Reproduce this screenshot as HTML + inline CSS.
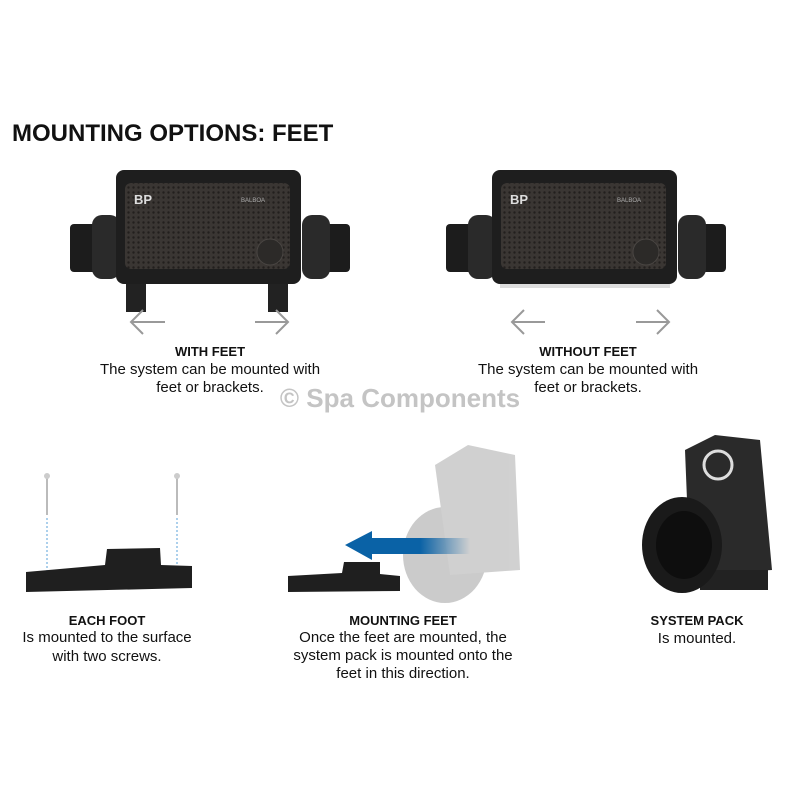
<!DOCTYPE html>
<html><head><meta charset="utf-8"><style>
html,body{margin:0;padding:0;background:#fff;}
svg{display:block;font-family:"Liberation Sans",sans-serif;}
</style></head><body>
<svg width="800" height="800" viewBox="0 0 800 800" xmlns="http://www.w3.org/2000/svg">
<defs>
<pattern id="dots" width="5" height="5" patternUnits="userSpaceOnUse"><rect width="5" height="5" fill="#3a3633"/><circle cx="2.5" cy="2.5" r="1.2" fill="#221f1d"/></pattern>
<linearGradient id="blue" x1="0" x2="1"><stop offset="0" stop-color="#0a62a6"/><stop offset="0.6" stop-color="#0a62a6"/><stop offset="1" stop-color="#0a62a6" stop-opacity="0"/></linearGradient>
<g id="unit">
  <rect x="-46" y="54" width="28" height="48" rx="4" fill="#1c1c1c"/>
  <rect x="-24" y="45" width="28" height="64" rx="10" fill="#2a2a2a"/>
  <rect x="210" y="54" width="24" height="48" rx="4" fill="#1c1c1c"/>
  <rect x="186" y="45" width="28" height="64" rx="10" fill="#2a2a2a"/>
  <rect x="10" y="112" width="20" height="30" fill="#222"/>
  <rect x="152" y="112" width="20" height="30" fill="#222"/>
  <rect x="0" y="0" width="185" height="114" rx="8" fill="#1e1e1e"/>
  <rect x="9" y="13" width="165" height="86" rx="6" fill="url(#dots)"/>
  <circle cx="154" cy="82" r="13" fill="#2c2a28" stroke="#4a4643"/>
  <text x="18" y="34" fill="#ddd" font-size="13" font-weight="bold">BP</text>
  <text x="125" y="32" fill="#aaa" font-size="6">BALBOA</text>
</g>
</defs>

<text x="12" y="141" font-size="24" font-weight="bold" fill="#111">MOUNTING OPTIONS: FEET</text>

<use href="#unit" x="116" y="170"/>
<use href="#unit" x="492" y="170"/>
<rect x="500" y="285" width="180" height="30" fill="#fff"/>
<rect x="500" y="284" width="170" height="4" fill="#ddd"/>

<g stroke="#999" stroke-width="2" fill="none">
<path d="M165 322H131M143 310L131 322L143 334"/>
<path d="M255 322H288M276 310L288 322L276 334"/>
<path d="M545 322H512M524 310L512 322L524 334"/>
<path d="M636 322H669M657 310L669 322L657 334"/>
</g>

<g text-anchor="middle" fill="#111">
<text x="210" y="356" font-size="13" font-weight="bold">WITH FEET</text>
<text x="210" y="374" font-size="15">The system can be mounted with</text>
<text x="210" y="392" font-size="15">feet or brackets.</text>
<text x="588" y="356" font-size="13" font-weight="bold">WITHOUT FEET</text>
<text x="588" y="374" font-size="15">The system can be mounted with</text>
<text x="588" y="392" font-size="15">feet or brackets.</text>
<text x="400" y="407" font-size="26" fill="#c4c4c4" font-weight="bold">© Spa Components</text>
</g>

<g stroke="#bbb" stroke-width="2"><line x1="47" y1="478" x2="47" y2="515"/><line x1="177" y1="478" x2="177" y2="515"/></g>
<circle cx="47" cy="476" r="3" fill="#ccc"/><circle cx="177" cy="476" r="3" fill="#ccc"/>
<g stroke="#5aa0d8" stroke-dasharray="2,2"><line x1="47" y1="518" x2="47" y2="585"/><line x1="177" y1="518" x2="177" y2="585"/></g>
<path d="M26 572L105 565L107 549L160 548L161 565L192 566L192 588L26 592Z" fill="#1f1f1f"/>

<path d="M288 576L342 573L344 562L380 562L380 574L400 576L400 591L288 592Z" fill="#1f1f1f"/>
<g opacity="0.3">
<ellipse cx="445" cy="555" rx="42" ry="48" fill="#555"/>
<path d="M435 465L468 445L515 455L520 570L450 575Z" fill="#666"/>
</g>
<path d="M345 545L372 531V538H470V554H372V560Z" fill="url(#blue)"/>

<path d="M685 450L715 435L760 440L772 570L690 575Z" fill="#2a2a2a"/>
<rect x="700" y="570" width="68" height="20" fill="#222"/>
<ellipse cx="682" cy="545" rx="40" ry="48" fill="#1a1a1a"/>
<ellipse cx="684" cy="545" rx="28" ry="34" fill="#0e0e0e"/>
<circle cx="718" cy="465" r="14" fill="none" stroke="#ddd" stroke-width="3"/>

<g text-anchor="middle" fill="#111">
<text x="107" y="625" font-size="13" font-weight="bold">EACH FOOT</text>
<text x="107" y="642" font-size="15">Is mounted to the surface</text>
<text x="107" y="661" font-size="15">with two screws.</text>
<text x="403" y="625" font-size="13" font-weight="bold">MOUNTING FEET</text>
<text x="403" y="642" font-size="15">Once the feet are mounted, the</text>
<text x="403" y="660" font-size="15">system pack is mounted onto the</text>
<text x="403" y="678" font-size="15">feet in this direction.</text>
<text x="697" y="625" font-size="13" font-weight="bold">SYSTEM PACK</text>
<text x="697" y="643" font-size="15">Is mounted.</text>
</g>
</svg>
</body></html>
